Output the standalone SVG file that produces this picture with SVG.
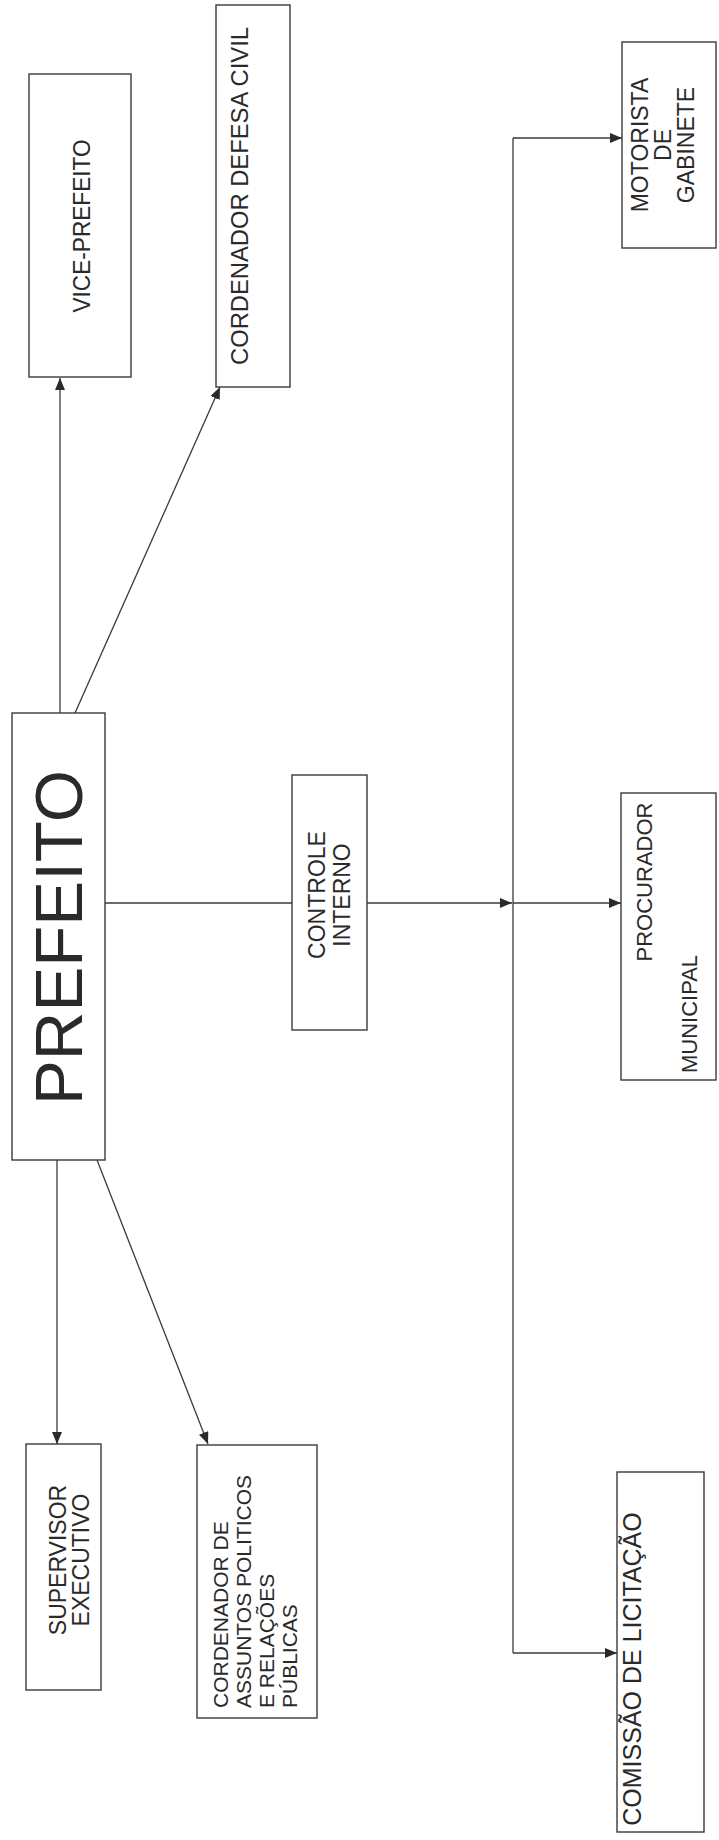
<svg xmlns="http://www.w3.org/2000/svg" width="719" height="1840" viewBox="0 0 719 1840">
<style>
.box{fill:#fff;stroke:#3a3a3a;stroke-width:1.4}
.t{font-family:"Liberation Sans",Arial,sans-serif;font-size:23px;fill:#2a2a2a}
.c{stroke:#3a3a3a;stroke-width:1.3;fill:none}
.m{text-anchor:middle}
</style>
<defs>
<marker id="a" markerUnits="userSpaceOnUse" markerWidth="12" markerHeight="10" refX="12" refY="5" orient="auto"><path d="M0,0L12,5L0,10z" fill="#2a2a2a"/></marker>
</defs>
<rect width="719" height="1840" fill="#fff"/>
<g id="connectors">
<path class="c" d="M60,713L60,378" marker-end="url(#a)"/>
<path class="c" d="M75,713L220,387" marker-end="url(#a)"/>
<path class="c" d="M57,1160L57,1444" marker-end="url(#a)"/>
<path class="c" d="M97,1160L208,1444" marker-end="url(#a)"/>
<path class="c" d="M105,903L512,903" marker-end="url(#a)"/>
<path class="c" d="M513,138L513,1653"/>
<path class="c" d="M513,138L622,138" marker-end="url(#a)"/>
<path class="c" d="M513,903L621,903" marker-end="url(#a)"/>
<path class="c" d="M513,1653L617,1653" marker-end="url(#a)"/>
</g>
<g id="prefeito">
<rect class="box" x="12" y="713" width="93" height="447"/>
<text class="t m" transform="translate(82,937.5) rotate(-90)" style="font-size:66px" textLength="335" lengthAdjust="spacingAndGlyphs">PREFEITO</text>
</g>
<g id="vice-prefeito">
<rect class="box" x="29" y="74" width="102" height="303"/>
<text class="t m" transform="translate(90,226) rotate(-90)" textLength="173" lengthAdjust="spacingAndGlyphs">VICE-PREFEITO</text>
</g>
<g id="defesa-civil">
<rect class="box" x="216" y="5" width="74" height="382"/>
<text class="t m" transform="translate(248,196) rotate(-90)" textLength="338" lengthAdjust="spacingAndGlyphs">CORDENADOR DEFESA CIVIL</text>
</g>
<g id="controle-interno">
<rect class="box" x="292" y="775" width="75" height="255"/>
<text class="t m" transform="translate(325,895) rotate(-90)"><tspan x="0" y="0">CONTROLE</tspan><tspan x="0" dy="25">INTERNO</tspan></text>
</g>
<g id="motorista">
<rect class="box" x="622" y="42" width="94" height="206"/>
<text class="t m" transform="translate(648,145) rotate(-90)"><tspan x="0" y="0">MOTORISTA</tspan><tspan x="0" dy="23">DE</tspan><tspan x="0" dy="23">GABINETE</tspan></text>
</g>
<g id="procurador">
<rect class="box" x="621" y="793" width="95" height="287"/>
<text class="t m" transform="translate(652,882) rotate(-90)" style="font-size:22px">PROCURADOR</text>
<text class="t m" transform="translate(697,1014) rotate(-90)" style="font-size:22px">MUNICIPAL</text>
</g>
<g id="comissao">
<rect class="box" x="617" y="1472" width="87" height="360"/>
<text class="t m" transform="translate(641,1669) rotate(-90)" style="font-size:25px">COMISSÃO DE LICITAÇÃO</text>
</g>
<g id="supervisor">
<rect class="box" x="26" y="1444" width="75" height="246"/>
<text class="t m" transform="translate(66,1560) rotate(-90)"><tspan x="0" y="0">SUPERVISOR</tspan><tspan x="0" dy="23">EXECUTIVO</tspan></text>
</g>
<g id="assuntos">
<rect class="box" x="197" y="1445" width="120" height="273"/>
<text class="t" transform="translate(228,1708) rotate(-90)" style="font-size:21px"><tspan x="0" y="0">CORDENADOR DE</tspan><tspan x="0" dy="23">ASSUNTOS POLITICOS</tspan><tspan x="0" dy="23">E RELAÇÕES</tspan><tspan x="0" dy="23">PÚBLICAS</tspan></text>
</g>
</svg>
